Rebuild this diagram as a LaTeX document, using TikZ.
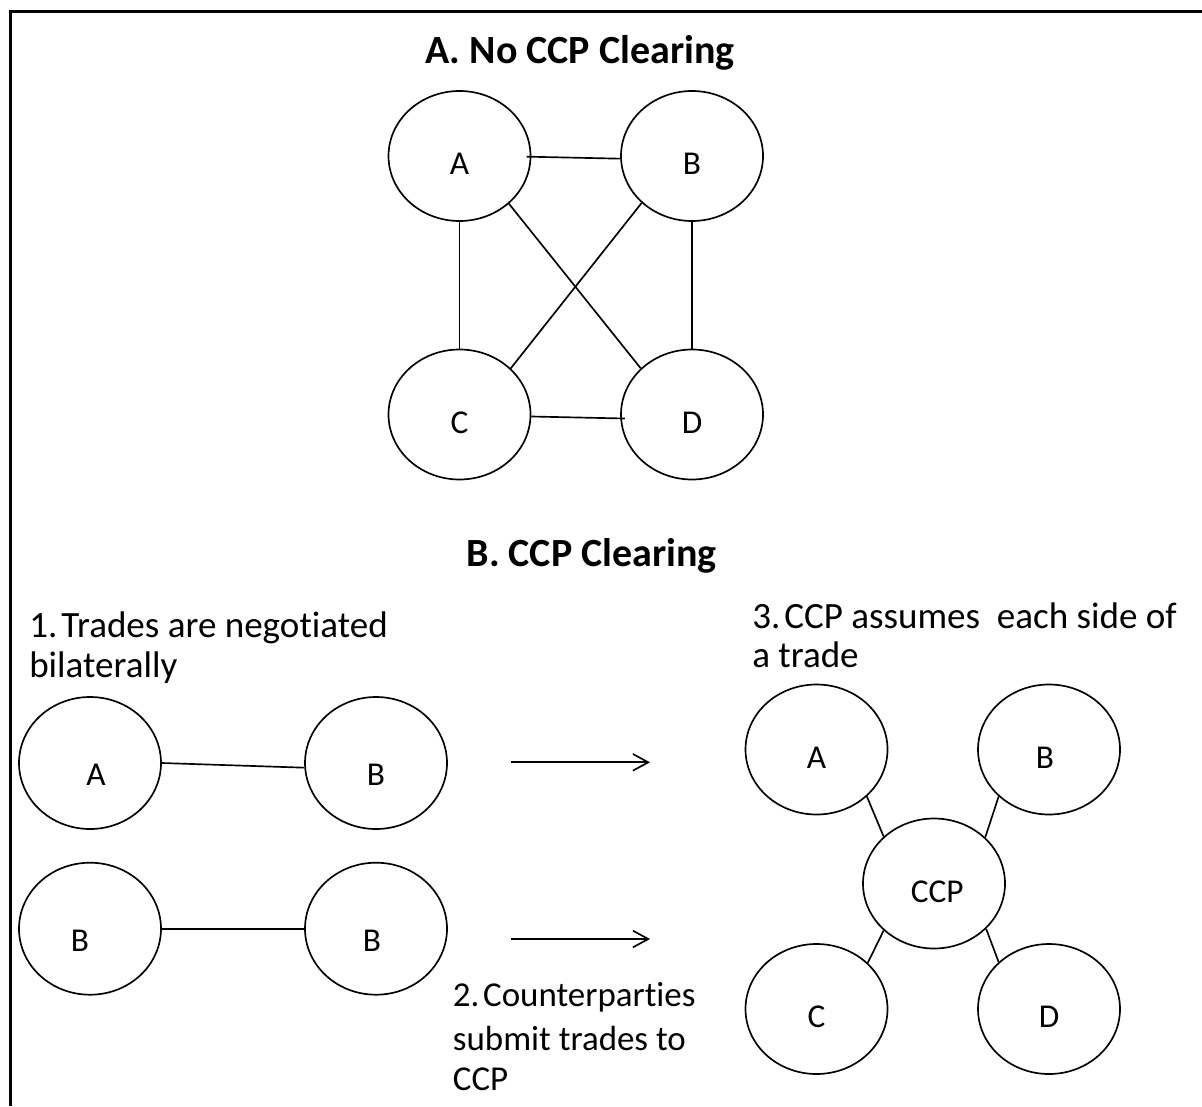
\documentclass[tikz,border=0pt]{standalone}
\usepackage{fontspec}
\setmainfont[Ligatures={NoCommon},RawFeature={-liga;-clig;-dlig}]{Carlito}
\usetikzlibrary{shapes.geometric,arrows.meta}
% keep "t" and "i" as separate glyphs
\newcommand{\sep}{\kern0pt{}}

\begin{document}
\begin{tikzpicture}[x=0.75pt,y=-0.75pt,
  party/.style={ellipse,draw,line width=1.25pt,minimum width=106.5pt,minimum height=97.5pt,
    inner sep=0pt,font=\fontsize{25}{30}\selectfont,text height=28pt,text depth=0pt},
  lowparty/.style={party,minimum height=99pt,text height=34pt},
  link/.style={line width=1.25pt},
  flow/.style={line width=1.25pt,-{Straight Barb[length=11.5pt,width=12.5pt]}},
  heading/.style={font=\bfseries\fontsize{30}{36}\selectfont,inner sep=0pt,anchor=base},
  note/.style={font=\fontsize{27.8}{33}\selectfont,inner sep=0pt,anchor=base west},
  note2/.style={font=\fontsize{26.2}{31}\selectfont,inner sep=0pt,anchor=base west}]

\useasboundingbox (0,0) rectangle (1202,1106);

% frame along the top and the left side
\draw[line width=2.25pt] (1202,11.3) -- (10.5,11.3) -- (10.5,1106);

% ---------- A. No CCP Clearing ----------
\node[heading] (titleA) at (580,64) {A. No CCP Clearing};

\node[party] (a) at (459.5,156) {A};
\node[party] (b) at (692,156) {B};
\node[party] (c) at (459.5,414.5) {C};
\node[party] (d) at (692,414.5) {D};

\draw[link] ([xshift=-3.5pt,yshift=-0.5pt]a.east) -- ([yshift=-2pt]b.west);
\draw[link] (a.south) -- (c.north);
\draw[link] (b.south) -- (d.north);
\draw[link] (a.-44) -- (d.138);
\draw[link] (b.-137) -- (c.42);
\draw[link] ([yshift=-1.5pt]c.east) -- ([xshift=3.5pt,yshift=-3pt]d.west);

% ---------- B. CCP Clearing ----------
\node[heading] (titleB) at (591.7,566.7) {B. CCP Clearing};

% step 1
\node[note] (s1a) at (29,637) {1.\kern-0.12em\ Trades are negot\sep iated};
\node[note] (s1b) at (29,677) {bilaterally};

\node[lowparty] (la) at (90,763) {\hspace*{9pt}A};
\node[lowparty] (lb) at (376,763) {B};
\draw[link] (la.east) -- ([yshift=-3.5pt]lb.west);

\node[lowparty] (lc) at (90,928.7) {B\hspace*{15pt}};
\node[lowparty] (ld) at (376,928.7) {B\hspace*{6pt}};
\draw[link] (lc.east) -- (ld.west);

% arrows towards the central counterparty
\coordinate (f1s) at (510.7,762.3);
\coordinate (f1e) at (650,762.3);
\coordinate (f2s) at (510.7,939);
\coordinate (f2e) at (650,939);
\draw[flow] (f1s) -- (f1e);
\draw[flow] (f2s) -- (f2e);

% step 2
\node[note2] (s2a) at (452.7,1006.7) {2.\kern-0.12em\ Counterpart\sep ies};
\node[note2] (s2b) at (452.7,1050) {submit trades to};
\node[note2] (s2c) at (452.7,1090.7) {CCP};

% step 3
\node[note] (s3a) at (752,628) {3.\kern-0.12em\ CCP assumes\ \ each side of};
\node[note] (s3b) at (752,667) {a trade};

\node[party] (ccp) at (934,883.5) {\hspace*{5pt}CCP};
\node[party] (ra) at (816.5,749.5) {A};
\node[party] (rb) at (1049,749.5) {B\hspace*{6pt}};
\node[party] (rc) at (816.5,1009) {C};
\node[party] (rd) at (1049,1009) {D};

\draw[link] (ra.-43.6) -- (ccp.137.7);
\draw[link] (rb.-137.5) -- (ccp.42.2);
\draw[link] (rc.42.3) -- (ccp.-137.9);
\draw[link] (rd.137.8) -- (ccp.-41.9);

\end{tikzpicture}
\end{document}
